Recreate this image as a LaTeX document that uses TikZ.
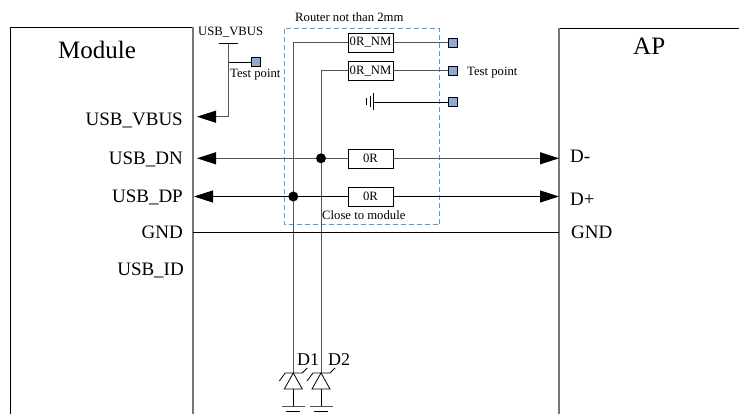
\documentclass[tikz,border=0pt]{standalone}
\usepackage{fontspec}
\setmainfont{Liberation Serif}
\usepackage{xcolor}
\usetikzlibrary{arrows.meta}
\definecolor{padblue}{RGB}{143,170,210}
\definecolor{routerblue}{RGB}{91,155,213}
\definecolor{wiregray}{RGB}{85,85,85}

\begin{document}
\begin{tikzpicture}[x=1pt,y=-1pt,>={Triangle[length=19pt,width=12pt,color=black,fill=black]},
	tag/.style={inner sep=0pt,font=\fontsize{12.7}{14}\selectfont},
	pin/.style={inner sep=0pt,font=\fontsize{19}{21}\selectfont},
	res/.style={draw,fill=white,inner sep=0pt,minimum width=45pt,minimum height=19pt,font=\fontsize{12.7}{14}\selectfont},
	pad/.style={draw,fill=padblue,inner sep=0pt,minimum size=9pt},
	dot/.style={circle,fill=black,inner sep=0pt,minimum size=10pt},
	wire/.style={wiregray,line width=1pt},
	thin wire/.style={black,line width=0.8pt},
	edge box/.style={wiregray!80,line width=1.3pt},
	gap tip/.style={{Triangle[length=19pt,width=12pt,sep=3pt,color=black,fill=black]}-}]

	\useasboundingbox (0,0) rectangle (739,414);

	% The boxes
	\draw[thin wire] (10.5,414) -- (10.5,27.5) -- (193,27.5);
	\draw[edge box] (193,27.5) -- (193,414);
	\draw[thin wire] (559,28) -- (739,28);
	\draw[edge box] (559,28) -- (559,414);
	\draw[routerblue,line width=1pt,dash pattern=on 5pt off 3pt] (284.5,29) rectangle (439.5,225);

	% The parts
	\node [res] at (370.5,42.5) (rnm1) {0R\_NM};
	\node [res] at (370.5,71) (rnm2) {0R\_NM};
	\node [res] at (370.5,158.3) (rdn) {0R\hspace{7pt}};
	\node [res] at (370.5,196.5) (rdp) {0R\hspace{7pt}};

	\node [pad] at (256,62) (padv) {};
	\node [pad] at (453,42.5) (pad1) {};
	\node [pad] at (453,71) (pad2) {};
	\node [pad] at (453,102) (pad3) {};

	\coordinate (vbar) at (228.7,43);
	\coordinate (vtee) at (228.7,62);
	\coordinate (vend) at (228.7,116.7);
	\coordinate (vpin) at (194,116.7);
	\coordinate (dnpin) at (194,158.3);
	\coordinate (dppin) at (194,196.5);
	\coordinate (dnap) at (559,158.3);
	\coordinate (dpap) at (559,196.5);
	\coordinate (gndl) at (193,232.3);
	\coordinate (gndr) at (559,232.3);
	\coordinate (cap) at (373.7,102);
	\coordinate (d1) at (293.3,373);
	\coordinate (d2) at (321,373);

	% Texts
	\node [tag,anchor=base west] at (198,36) (tv) {USB\_VBUS};
	\node [tag,anchor=base west] at (230,78) (tp1) {Test point};
	\node [tag,anchor=base west] at (295,22) (router) {Router not than 2mm};
	\node [tag,anchor=base west] at (467,76) (tp2) {Test point};
	\node [tag,anchor=base west] at (322,220) (close) {Close to module};

	\node [inner sep=0pt,anchor=base west,font=\fontsize{25}{28}\selectfont] at (58,59) (module) {Module};
	\node [inner sep=0pt,anchor=base west,font=\fontsize{25}{28}\selectfont] at (633,55) (ap) {AP};
	\node [pin,anchor=base east] at (183,126) (lvbus) {USB\_VBUS};
	\node [pin,anchor=base east] at (183,165) (ldn) {USB\_DN};
	\node [pin,anchor=base east] at (183,203) (ldp) {USB\_DP};
	\node [pin,anchor=base east] at (183,239) (lgnd) {GND};
	\node [pin,anchor=base east] at (184,276) (lid) {USB\_ID};
	\node [pin,anchor=base west] at (570,163) (dm) {D-};
	\node [pin,anchor=base west] at (570,206) (dp) {D+};
	\node [pin,anchor=base west] at (571,239) (gap) {GND};
	\node [pin,anchor=base west,font=\fontsize{18}{20}\selectfont] at (297,365) (nd1) {D1};
	\node [pin,anchor=base west,font=\fontsize{18}{20}\selectfont] at (328,365) (nd2) {D2};

	% Wires
	\draw[wire] (vbar) -- (vend);
	\draw[thin wire] (219,43) -- (238,43);
	\draw[thin wire] (vtee) -- (padv);
	\draw[wire,gap tip] (vpin) -- (vend);

	\draw[wire] (rnm1) -- (pad1);
	\draw[wire] (rnm2) -- (pad2);
	\draw[wire] (rnm1) -| (d1);
	\draw[wire] (rnm2) -| (d2);

	\draw[wire,gap tip] (dnpin) -- (rdn);
	\draw[wire,->] (rdn) -- (dnap);
	\draw[thin wire,<-] (dppin) -- (rdp);
	\draw[thin wire,->] (rdp) -- (dpap);
	\draw[thin wire] (gndl) -- (gndr);

	\draw[thin wire] (cap) -- (pad3);
	\draw[thin wire] (cap) ++(0,-8.5) -- ++(0,17);
	\draw[thin wire] (cap) ++(-3.7,-5.5) -- ++(0,11);
	\draw[thin wire] (cap) ++(-7.7,-3.5) -- ++(0,7);

	% Junctions
	\node [dot] at (321,158.3) (jdn) {};
	\node [dot] at (293.3,196.5) (jdp) {};

	% Diodes
	\foreach \d in {d1,d2}{
		\draw[thin wire] (\d) ++(-14,8) -- ++(6,-8) -- ++(17,0) -- ++(5,-5);
		\draw[thin wire] (\d) -- ++(-9,16) -- ++(18,0) -- cycle;
		\draw[thin wire] (\d) ++(0,16) -- ++(0,17);
		\draw[wire] (\d) ++(-11.5,33) -- ++(23,0);
		\draw[thin wire] (\d) ++(-7,38) -- ++(14,0);
	}

\end{tikzpicture}
\end{document}
